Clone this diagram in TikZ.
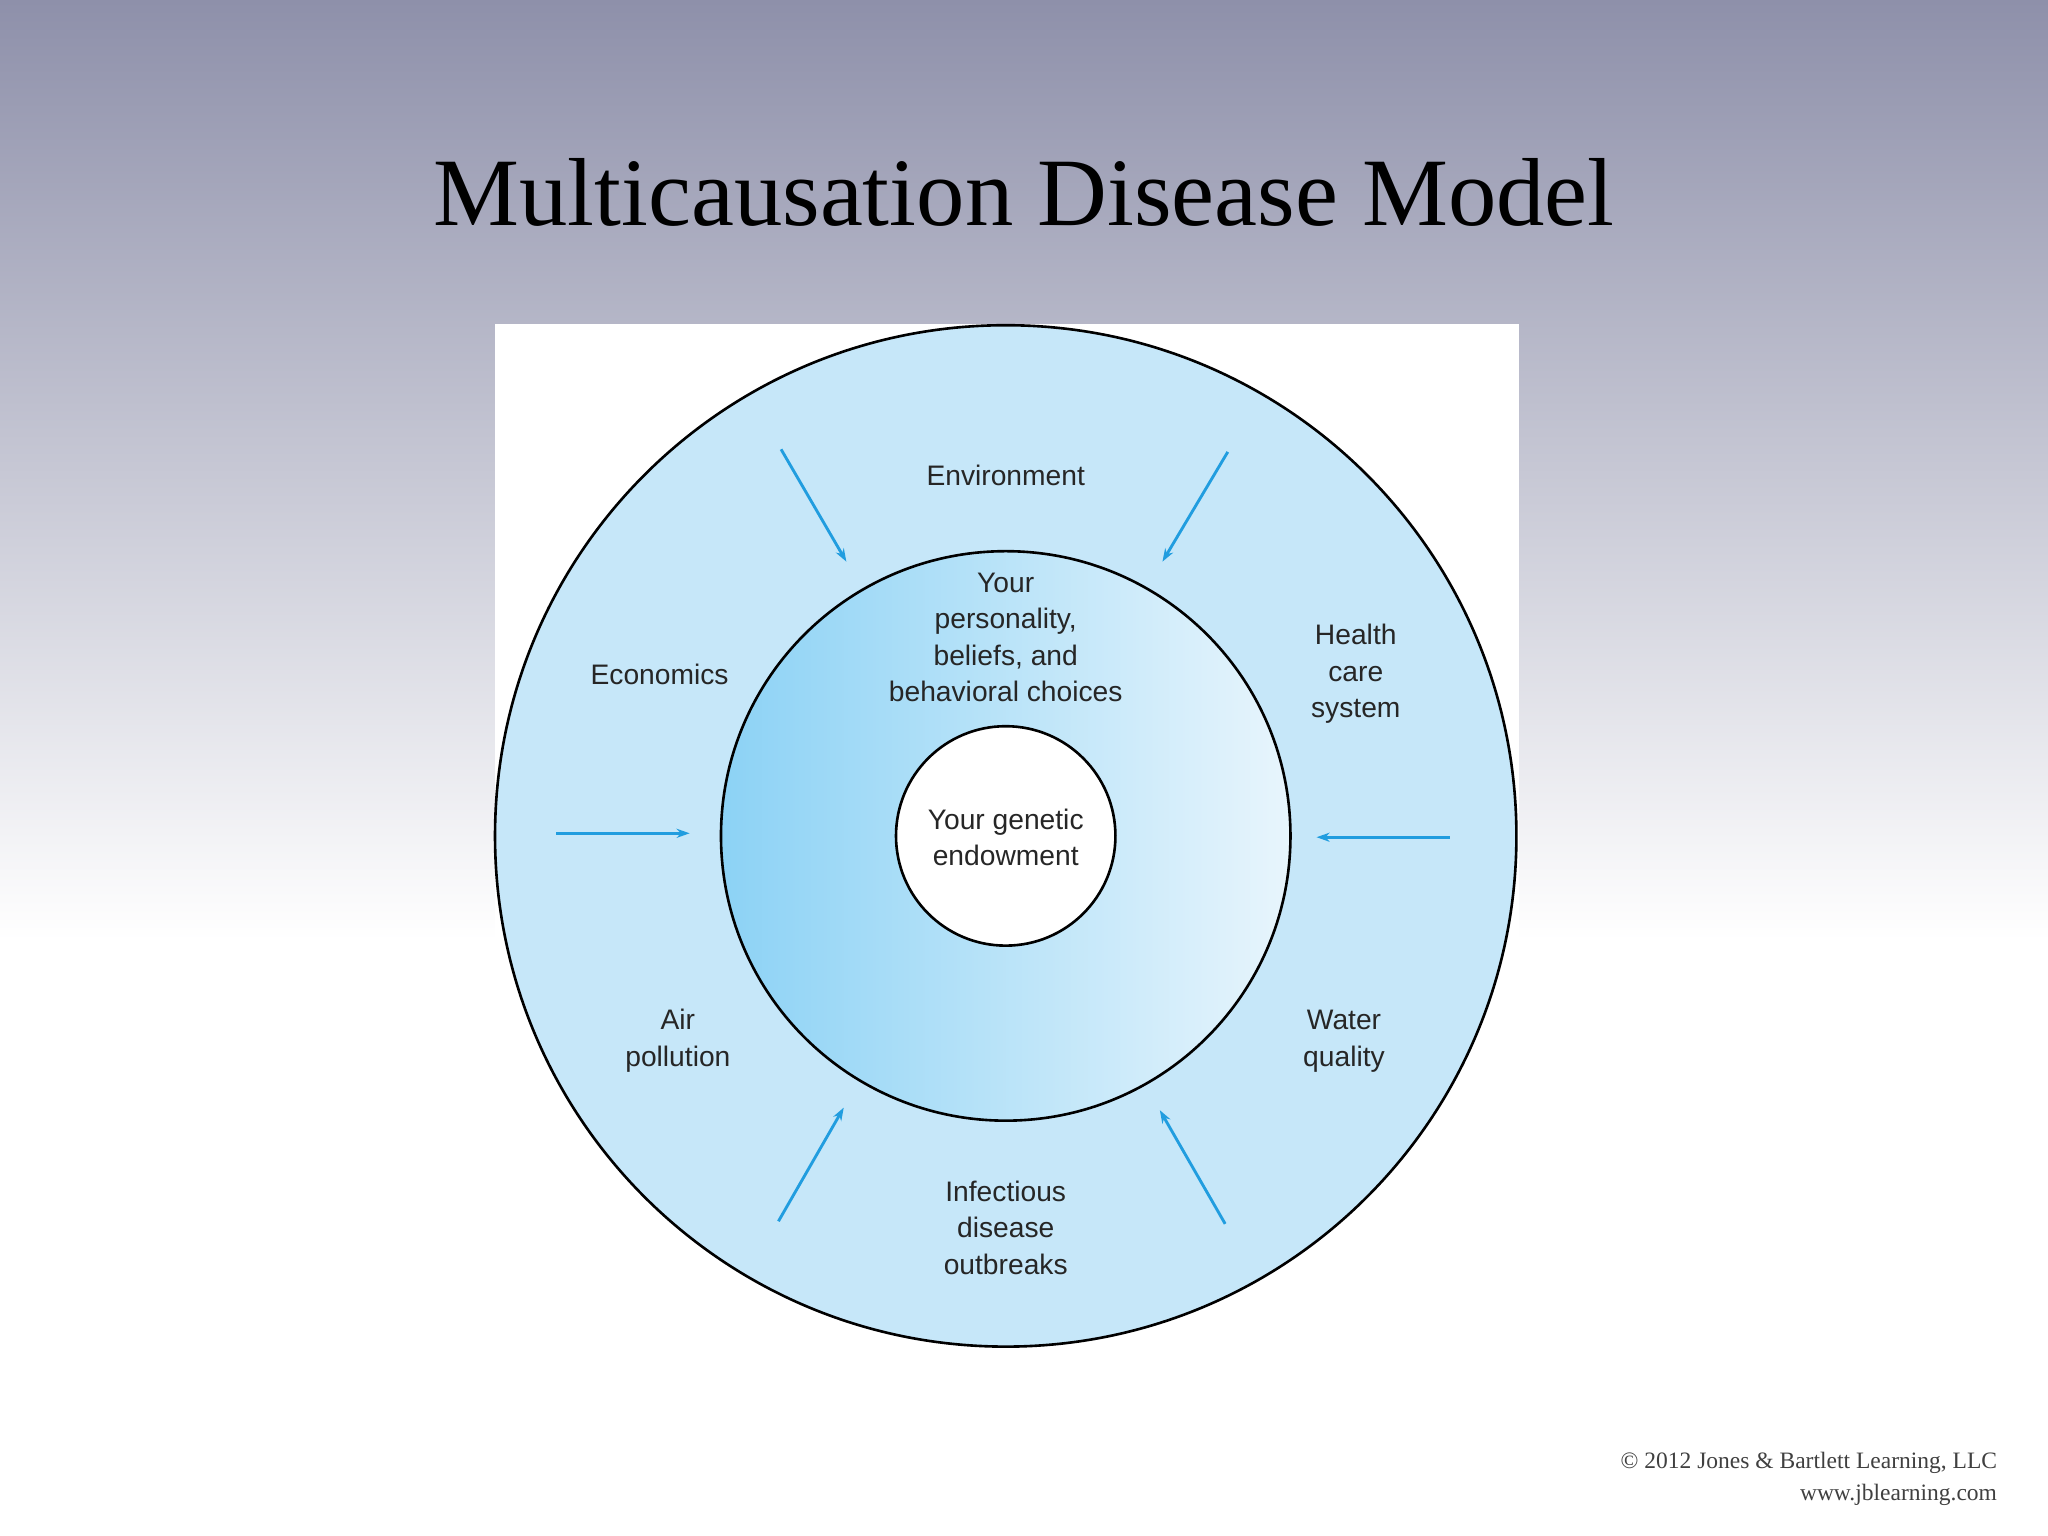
\documentclass[tikz,border=0pt]{standalone}
\usepackage{fontspec}
\setmainfont{Liberation Serif}
\newfontfamily\lab{Liberation Sans}
\begin{document}
\begin{tikzpicture}[x=0.5pt,y=-0.5pt,
  lbl/.style={font=\lab\fontsize{10.8}{14}\selectfont,text=black!85,align=center},
  arr/.style={draw=cyan!80!blue!90!white,line width=1.1pt,-{Stealth[length=5pt,width=3.5pt]}}]
\usetikzlibrary{arrows.meta}
\useasboundingbox (0,0) rectangle (1568,1176);
\shade[top color={rgb,255:red,142;green,144;blue,170},bottom color=white] (0,0) rectangle (1568,720);
\fill[white] (0,720) rectangle (1568,1176);
\fill[white] (379,248) rectangle (1163,1176);
\node[font=\fontsize{37}{40}\selectfont] (title) at (784,147) {Multicausation Disease Model};
\draw[line width=1pt,fill={rgb,255:red,198;green,231;blue,249}] (770,640) circle[radius=391];
\shade[left color={rgb,255:red,140;green,210;blue,245},right color={rgb,255:red,232;green,245;blue,252},shading angle=90] (770,640) circle[radius=218];
\draw[line width=1pt] (770,640) circle[radius=218];
\draw[line width=1pt,fill=white] (770,640) circle[radius=84];
\node[lbl] (gen) at (770,641) {Your genetic\\endowment};
\node[lbl] (pers) at (770,488) {Your\\personality,\\beliefs, and\\behavioral choices};
\node[lbl] (env) at (770,364) {Environment};
\node[lbl] (eco) at (505,516) {Economics};
\node[lbl] (hcs) at (1038,516) {Health\\care\\system};
\node[lbl] (air) at (519,797) {Air\\pollution};
\node[lbl] (wat) at (1029,797) {Water\\quality};
\node[lbl] (inf) at (770,940) {Infectious\\disease\\outbreaks};
\coordinate (a1s) at (598,344); \coordinate (a1e) at (648,430);
\coordinate (a2s) at (940,346); \coordinate (a2e) at (890,430);
\coordinate (a3s) at (426,638); \coordinate (a3e) at (528,638);
\coordinate (a4s) at (1110,641); \coordinate (a4e) at (1008,641);
\coordinate (a5s) at (596,935); \coordinate (a5e) at (646,848);
\coordinate (a6s) at (938,937); \coordinate (a6e) at (888,850);
\foreach \i in {1,...,6} \draw[arr] (a\i s) -- (a\i e);
\node[font=\fontsize{9}{12.5}\selectfont,align=right,anchor=south east,text=black!75] (copy) at (1536,1160) {\textcopyright\ 2012 Jones \& Bartlett Learning, LLC\\www.jblearning.com};
\end{tikzpicture}
\end{document}
